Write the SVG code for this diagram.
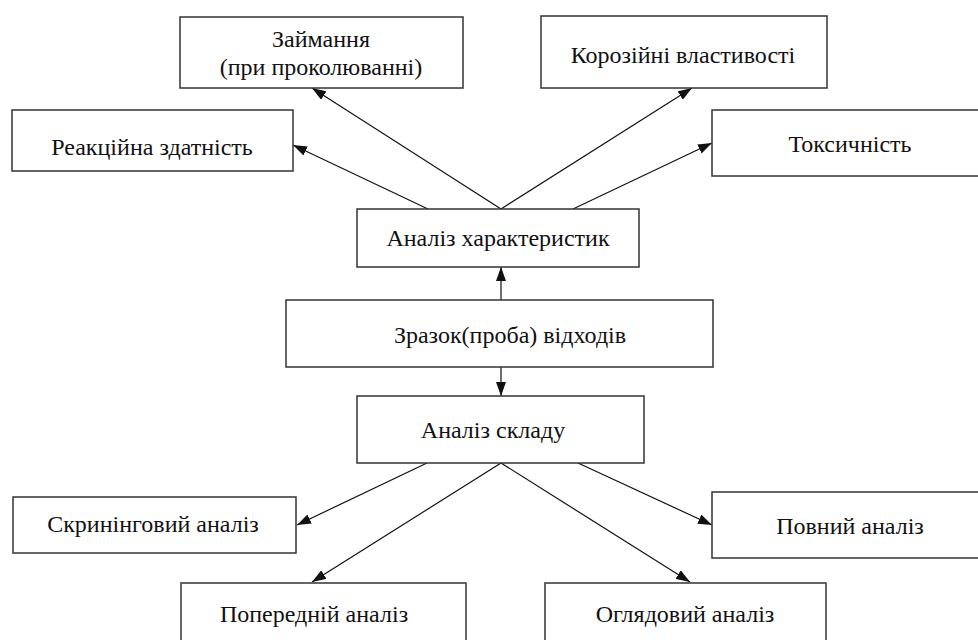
<svg xmlns="http://www.w3.org/2000/svg" width="978" height="640" viewBox="0 0 978 640">
<style>
.box{fill:#fff;stroke:#333;stroke-width:1.5}
.t{font-family:"Liberation Serif","Times New Roman",serif;font-size:24px;fill:#111;text-anchor:middle}
.c{stroke:#111;stroke-width:1.2;fill:none;marker-end:url(#ah)}
</style>
<defs>
<marker id="ah" viewBox="0 0 14 10" refX="14" refY="5" markerWidth="14" markerHeight="10" markerUnits="userSpaceOnUse" orient="auto">
<path d="M0,0 L14,5 L0,10 Z" fill="#111"/>
</marker>
</defs>
<rect width="978" height="640" fill="#fff"/>
<g id="connectors">
<line class="c" x1="428" y1="209" x2="293" y2="145"/>
<line class="c" x1="501" y1="209" x2="312" y2="88"/>
<line class="c" x1="501" y1="209" x2="692" y2="88"/>
<line class="c" x1="573" y1="209" x2="712" y2="143"/>
<line class="c" x1="501" y1="300" x2="501" y2="267"/>
<line class="c" x1="501" y1="367" x2="501" y2="396"/>
<line class="c" x1="427" y1="463" x2="297" y2="525"/>
<line class="c" x1="501" y1="463" x2="312" y2="582"/>
<line class="c" x1="578" y1="463" x2="712" y2="525"/>
<line class="c" x1="501" y1="463" x2="690" y2="582"/>
</g>
<g id="zaymannya"><rect class="box" x="180" y="17" width="283" height="71"/><text class="t" x="321" y="47">Займання</text><text class="t" x="321" y="75">(при проколюванні)</text></g>
<g id="koroziyni"><rect class="box" x="541" y="16" width="286" height="72"/><text class="t" x="683" y="63">Корозійні властивості</text></g>
<g id="reaktsiyna"><rect class="box" x="12" y="110" width="281" height="61"/><text class="t" x="152" y="155">Реакційна здатність</text></g>
<g id="toksychnist"><rect class="box" x="712" y="110" width="280" height="66"/><text class="t" x="850" y="152">Токсичність</text></g>
<g id="analiz-kharakterystyk"><rect class="box" x="357" y="209" width="282" height="58"/><text class="t" x="498" y="246">Аналіз характеристик</text></g>
<g id="zrazok"><rect class="box" x="286" y="300" width="427" height="67"/><text class="t" x="510" y="343">Зразок(проба) відходів</text></g>
<g id="analiz-skladu"><rect class="box" x="357" y="396" width="287" height="67"/><text class="t" x="493" y="438">Аналіз складу</text></g>
<g id="skryninhovyi"><rect class="box" x="13" y="497" width="283" height="56"/><text class="t" x="153" y="532">Скринінговий аналіз</text></g>
<g id="povnyi"><rect class="box" x="712" y="492" width="280" height="66"/><text class="t" x="850" y="534">Повний аналіз</text></g>
<g id="poperedniy"><rect class="box" x="181" y="583" width="285" height="80"/><text class="t" x="314" y="622">Попередній аналіз</text></g>
<g id="ohliadovyi"><rect class="box" x="545" y="583" width="281" height="80"/><text class="t" x="685" y="622">Оглядовий аналіз</text></g>
</svg>
